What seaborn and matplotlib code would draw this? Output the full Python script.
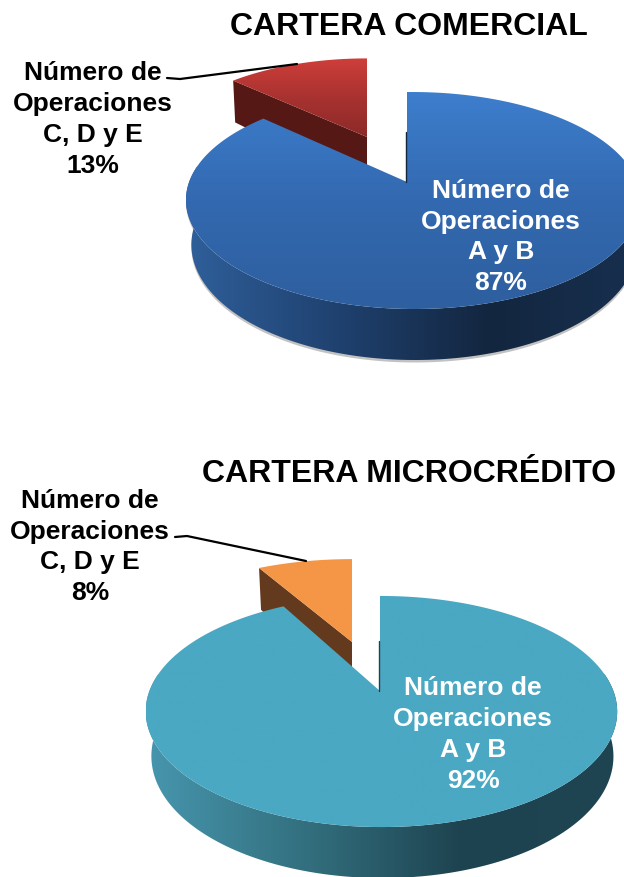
import matplotlib

matplotlib.use('Agg')
import matplotlib.pyplot as plt
import numpy as np
import seaborn as sns
from matplotlib.patches import Polygon

# shares, percent
comercial_values = [87, 13]
micro_values = [92, 8]
main_label = 'Número de\nOperaciones\nA y B'
small_label = 'Número de\nOperaciones\nC, D y E'
comercial_title = 'CARTERA COMERCIAL'
micro_title = 'CARTERA MICROCRÉDITO'

sns.set_theme(style='white')
plt.rcParams['font.family'] = ['Liberation Sans', 'DejaVu Sans']

fig = plt.figure(figsize=(6.24, 8.78), dpi=100)
ax = fig.add_axes([0, 0, 1, 1])
layer = [1]


def next_z():
    layer[0] += 1
    return layer[0]


def project(theta, geom):
    # perspective view of a tilted disc, theta clockwise from 12 o'clock
    s = np.sin(theta)
    c = np.cos(theta)
    d = 1 + geom['k'] * c + geom['j'] * s
    return geom['x'] + geom['a'] * s / d, geom['y'] - geom['h'] * c / d


def gradient(poly, stops, vertical=True):
    cols = np.array(sns.blend_palette(stops, n_colors=200))
    img = cols[:, None, :] if vertical else cols[None, :, :]
    x0, y0 = poly.min(axis=0)
    x1, y1 = poly.max(axis=0)
    patch = Polygon(poly, closed=True, transform=ax.transData, fc='none', ec='none')
    ax.add_patch(patch)
    im = ax.imshow(img, extent=(x0, x1, y1, y0), aspect='auto', interpolation='bilinear',
                   zorder=next_z())
    im.set_clip_path(patch)


def draw_pie(values, main, small, face, side, small_face, small_wall, depth, shadow):
    cut = 2 * np.pi * values[0] / sum(values)

    # small slice with its visible cut wall
    th = np.linspace(cut, 2 * np.pi, 60)
    rx, ry = project(th, small)
    wall = np.array([[rx[0], ry[0]], [small['x'], small['y']],
                     [small['x'], small['y'] + depth],
                     [rx[0] + 2, ry[0] + depth * 0.82]])
    ax.add_patch(Polygon(wall, closed=True, fc=small_wall, ec='none', zorder=next_z()))
    top = np.vstack([[small['x'], small['y']], np.column_stack([rx, ry])])
    gradient(top, small_face)

    # rim wall of the big slice
    th = np.linspace(np.pi * 0.45, np.pi * 1.55, 160)
    rx, ry = project(th, main)
    bx = main['x'] + (rx - main['x']) * 0.98 + 1
    by = ry + depth * (0.85 + 0.15 * -np.cos(th))
    wall = np.vstack([np.column_stack([rx, ry]), np.column_stack([bx, by])[::-1]])
    if shadow:
        ax.add_patch(Polygon(wall + [0, 2.5], closed=True, fc='#a8a8a8', ec='none', alpha=0.7,
                             zorder=next_z()))
    gradient(wall, side, vertical=False)

    # big slice
    th = np.linspace(0, cut, 200)
    rx, ry = project(th, main)
    top = np.vstack([[main['x'], main['y']], np.column_stack([rx, ry])])
    gradient(top, face)
    ax.plot([main['x'] - 1, main['x'] - 1], [main['y'], main['y'] - 50], color=side[-2], lw=1,
            zorder=next_z())


comercial_main = dict(x=407, y=183, a=224, h=105.3, k=0.1705, j=-0.028)
comercial_small = dict(x=367, y=138, a=205, h=92, k=0.1705, j=0.0)
draw_pie(comercial_values, comercial_main, comercial_small,
         ['#3d7ecd', '#3369b0', '#2e5f9f'],
         ['#2f5f9a', '#1f416f', '#13263f', '#17304f'],
         ['#cf3e3a', '#a83230', '#8c2a28'], '#561814', 51, True)

micro_main = dict(x=380, y=692, a=232, h=111.9, k=0.1775, j=-0.006)
micro_small = dict(x=352, y=643, a=223, h=97.6, k=0.1775, j=0.0)
draw_pie(micro_values, micro_main, micro_small,
         ['#4aa8c3', '#4aa8c3'],
         ['#4796ae', '#33707f', '#1e4350', '#1f4452'],
         ['#f49646', '#f49646'], '#633a1e', 51, False)

# leader lines
ax.plot([167, 180, 297], [79, 80, 65], color='black', lw=1.6, zorder=next_z())
ax.plot([175, 187, 306], [538, 537, 562], color='black', lw=1.6, zorder=next_z())

bold = dict(fontweight='bold', ha='center', va='center', linespacing=1.356, zorder=100)
title = dict(fontweight='bold', ha='center', va='center', color='black', fontsize=23, zorder=100)
ax.text(409, 27, comercial_title, **title)
ax.text(409, 474, micro_title, **title)
ax.text(93, 119.5, '%s\n%d%%' % (small_label, comercial_values[1]), fontsize=19, color='black', **bold)
ax.text(90, 547, '%s\n%d%%' % (small_label, micro_values[1]), fontsize=19, color='black', **bold)
ax.text(501, 237, '%s\n%d%%' % (main_label, comercial_values[0]), fontsize=19, color='white', **bold)
ax.text(473, 734.5, '%s\n%d%%' % (main_label, micro_values[0]), fontsize=19, color='white', **bold)

ax.set_xlim(0, 624)
ax.set_ylim(878, 0)
ax.axis('off')
plt.savefig('out.png', dpi=100)
